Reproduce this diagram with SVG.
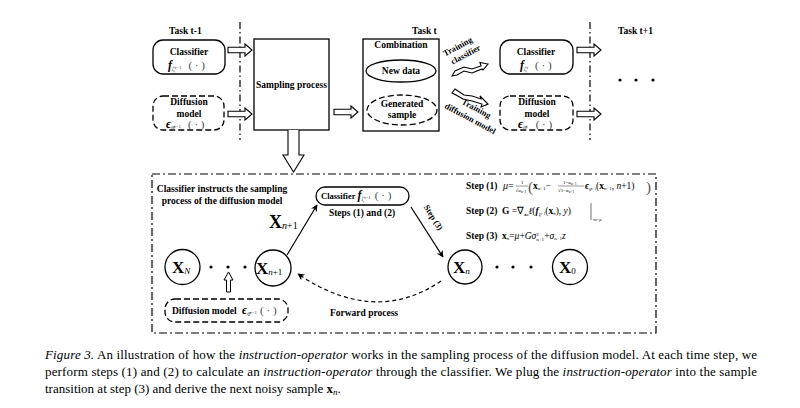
<svg xmlns="http://www.w3.org/2000/svg" width="800" height="408" viewBox="0 0 800 408">
<defs>
<style>
.b{font-family:"Liberation Serif",serif;font-weight:bold;font-size:9.5px;fill:#000}
.s{font-family:"Liberation Serif",serif;font-size:9px;fill:#000}
.i{font-style:italic}
.bi{font-weight:bold;font-style:italic}
.g{fill:#444}
.box{fill:#fff;stroke:#000;stroke-width:1.3}
.dbox{fill:#fff;stroke:#000;stroke-width:1.3;stroke-dasharray:6 3}
.dd{fill:none;stroke:#000;stroke-width:1.2;stroke-dasharray:7 3 1.5 3}
.ln{fill:none;stroke:#000;stroke-width:1.2}
.cap{font-family:"Liberation Serif",serif;font-size:13px;fill:#000}
</style>
<path id="ha" d="M0,-2.8 H17 V-6 L24,0 L17,6 V2.8 H0 Z" fill="#fff" stroke="#000" stroke-width="1.1"/>
<marker id="ar" viewBox="0 0 10 10" refX="9" refY="5" markerWidth="7" markerHeight="7" orient="auto" markerUnits="userSpaceOnUse"><path d="M0,0 L10,5 L0,10 L3,5 Z" fill="#000"/></marker>
</defs>
<rect width="800" height="408" fill="#fff"/>

<!-- task labels -->
<text class="b" x="169" y="34">Task t-1</text>
<text class="b" x="412" y="34">Task t</text>
<text class="b" x="618" y="34">Task t+1</text>

<!-- vertical dash-dot separators -->
<line class="dd" x1="240" y1="22" x2="240" y2="140"/>
<line class="dd" x1="590" y1="22" x2="590" y2="140"/>

<g id="clf-prev">
<rect class="box" x="153" y="40" width="72" height="34" rx="10"/>
<text class="b" x="189" y="55" text-anchor="middle">Classifier</text>
<text class="s" x="168" y="69"><tspan class="bi" font-size="12">f</tspan><tspan font-size="6.5" dy="2" class="g">ζ</tspan><tspan font-size="5" dy="-2" class="g">t−1</tspan><tspan dx="7" dy="0" font-size="11" class="g">( · )</tspan></text>
</g>

<g id="diff-prev">
<rect class="dbox" x="153" y="96" width="71" height="34" rx="10"/>
<text class="b" x="189" y="105" text-anchor="middle">Diffusion</text>
<text class="b" x="189" y="117" text-anchor="middle">model</text>
<text class="s" x="166" y="128"><tspan class="bi" font-size="12">ϵ</tspan><tspan font-size="6.5" dy="2" class="g">θ̂</tspan><tspan font-size="5" dy="-2" class="g">t−1</tspan><tspan dx="7" font-size="11" class="g">( · )</tspan></text>
</g>

<g id="sampling">
<rect class="box" x="254" y="39" width="75" height="91"/>
<text class="b" x="291.5" y="88" text-anchor="middle">Sampling process</text>
</g>

<g id="combination">
<rect class="box" x="363" y="39" width="76" height="92"/>
<text class="b" x="401" y="48" text-anchor="middle">Combination</text>
<ellipse class="box" cx="401" cy="71" rx="35" ry="11"/>
<text class="b" x="401" y="74" text-anchor="middle">New data</text>
<ellipse class="dbox" cx="402" cy="110" rx="35" ry="15"/>
<text class="b" x="402" y="107" text-anchor="middle">Generated</text>
<text class="b" x="402" y="118" text-anchor="middle">sample</text>
</g>

<g id="clf-cur">
<rect class="box" x="500" y="40" width="73" height="34" rx="10"/>
<text class="b" x="536" y="55" text-anchor="middle">Classifier</text>
<text class="s" x="520" y="69"><tspan class="bi" font-size="12">f</tspan><tspan font-size="6.5" dy="2" class="g">ζ</tspan><tspan font-size="5" dy="-2" class="g">t</tspan><tspan dx="7" font-size="11" class="g">( · )</tspan></text>
</g>

<g id="diff-cur">
<rect class="dbox" x="500" y="96" width="73" height="34" rx="10"/>
<text class="b" x="537" y="105" text-anchor="middle">Diffusion</text>
<text class="b" x="537" y="117" text-anchor="middle">model</text>
<text class="s" x="518" y="128"><tspan class="bi" font-size="12">ϵ</tspan><tspan font-size="6.5" dy="2" class="g">θ̂</tspan><tspan font-size="5" dy="-2" class="g">t</tspan><tspan dx="8" font-size="11" class="g">( · )</tspan></text>
</g>

<g id="dots-top">
<circle cx="620" cy="80" r="1.6"/><circle cx="636" cy="80" r="1.6"/><circle cx="653" cy="80" r="1.6"/>
</g>

<!-- bottom panel -->
<rect class="dd" x="152" y="174" width="504" height="159" style="stroke-dasharray:8 3 2 3"/>
<text class="b" x="222" y="192" text-anchor="middle">Classifier instructs the sampling</text>
<text class="b" x="222" y="204" text-anchor="middle">process of the diffusion model</text>

<g id="clf-pill">
<rect class="box" x="316" y="187" width="93" height="18" rx="9"/>
<text class="b" x="321" y="199" style="font-size:8.5px">Classifier <tspan class="bi" font-size="12">f</tspan><tspan font-size="6.5" dy="2" font-weight="normal" font-style="normal" fill="#444">ζ</tspan><tspan font-size="5" dy="-2" font-weight="normal" fill="#444">t−1</tspan><tspan dx="4" font-size="11" font-weight="normal" fill="#444">( · )</tspan></text>
</g>
<text class="b" x="362" y="216" text-anchor="middle">Steps (1) and (2)</text>

<g id="XN">
<circle class="box" cx="182.5" cy="267" r="17.5"/>
<text class="s" x="172" y="273" style="font-size:17px;font-weight:bold">X<tspan font-size="9" font-style="italic" font-weight="normal" dy="1">N</tspan></text>
</g>
<g id="dots-left"><circle cx="211" cy="267" r="1.6"/><circle cx="228" cy="267" r="1.6"/><circle cx="245" cy="267" r="1.6"/></g>
<g id="Xn1">
<circle class="box" cx="273" cy="268" r="18"/>
<text class="s" x="256" y="274" style="font-size:17px;font-weight:bold">X<tspan font-size="9" font-weight="normal" dy="1"><tspan font-style="italic">n</tspan>+1</tspan></text>
</g>
<g id="Xn">
<circle class="box" cx="465" cy="267" r="17"/>
<text class="s" x="453" y="273" style="font-size:17px;font-weight:bold">X<tspan font-size="9" font-style="italic" font-weight="normal" dy="1">n</tspan></text>
</g>
<g id="dots-right"><circle cx="497" cy="267" r="1.6"/><circle cx="513" cy="267" r="1.6"/><circle cx="531" cy="267" r="1.6"/></g>
<g id="X0">
<circle class="box" cx="570" cy="267" r="17.5"/>
<text class="s" x="559" y="273" style="font-size:17px;font-weight:bold">X<tspan font-size="9" font-weight="normal" dy="1">0</tspan></text>
</g>

<g id="diff-bottom">
<rect class="dbox" x="165" y="299" width="123" height="23" rx="10"/>
<text class="b" x="172" y="314">Diffusion model <tspan dx="3" class="bi" font-size="12">ϵ</tspan><tspan font-size="6.5" dy="2" font-weight="normal" fill="#444">θ̂</tspan><tspan font-size="5" dy="-2" font-weight="normal" fill="#444">t−1</tspan><tspan dx="3" font-size="11" font-weight="normal" fill="#444">( · )</tspan></text>
</g>

<text class="b" x="364" y="316" text-anchor="middle">Forward process</text>

<text class="s" x="269" y="228" style="font-size:18px;font-weight:bold">X<tspan font-size="10" font-weight="normal" dy="1"><tspan font-style="italic">n</tspan>+1</tspan></text>

<!-- equations -->
<g id="equations">
<text class="b" x="466" y="189">Step (1)</text>
<text class="s" x="503" y="189" style="font-size:10px"><tspan class="i">μ</tspan>=</text>
<text class="s" x="521" y="184" style="font-size:5px">1</text>
<line x1="516" y1="186" x2="528" y2="186" stroke="#333" stroke-width="0.5"/>
<text class="s" x="515.5" y="191.5" style="font-size:5px">√<tspan class="i">α</tspan><tspan font-size="3.5" dy="1">n+1</tspan></text>
<text class="s" x="528" y="191.5" style="font-size:15px;fill:#555">(</text>
<text class="s" x="533" y="189" style="font-size:9.5px"><tspan font-weight="bold">x</tspan><tspan font-size="5" dy="1">n+1</tspan><tspan dy="-1">−</tspan></text>
<text class="s" x="563" y="184" style="font-size:5px">1−<tspan class="i">α</tspan><tspan font-size="3.5" dy="1">n+1</tspan></text>
<line x1="558" y1="186" x2="584" y2="186" stroke="#333" stroke-width="0.5"/>
<text class="s" x="558" y="191.5" style="font-size:5px">√1−<tspan class="i">ᾱ</tspan><tspan font-size="3.5" dy="1">n+1</tspan></text>
<text class="s" x="585" y="189" style="font-size:9.5px"><tspan class="bi">ϵ</tspan><tspan font-size="4.5" dy="1.5">θ̂</tspan><tspan font-size="3.5" dy="-1">t−1</tspan><tspan dy="-0.5">(</tspan><tspan font-weight="bold">x</tspan><tspan font-size="5" dy="1">n+1</tspan><tspan dy="-1">, <tspan class="i">n</tspan>+1)</tspan></text>
<text class="s" x="646" y="191.5" style="font-size:15px;fill:#555">)</text>

<text class="b" x="466" y="214">Step (2)</text>
<text class="s" x="502" y="214" style="font-size:9.5px"><tspan font-weight="bold">G</tspan> =∇<tspan font-size="5" font-weight="bold" dy="1.5">x</tspan><tspan font-size="3.5" dy="0.5">n</tspan><tspan dy="-2" class="i">ℓ</tspan>(<tspan class="bi">f</tspan><tspan font-size="4.5" dy="1.5">ζ</tspan><tspan font-size="3.5" dy="-1">t−1</tspan><tspan dy="-0.5">(</tspan><tspan font-weight="bold">x</tspan><tspan font-size="5" dy="1" class="i">n</tspan><tspan dy="-1">), <tspan class="i">y</tspan>)</tspan></text>
<line x1="591" y1="203" x2="591" y2="220" stroke="#333" stroke-width="0.7"/>
<text class="s" x="593" y="221" style="font-size:4.5px">x<tspan font-size="3">n</tspan>=<tspan class="i">μ</tspan></text>

<text class="b" x="466" y="239">Step (3)</text>
<text class="s" x="502" y="239" style="font-size:9.5px"><tspan font-weight="bold">x</tspan><tspan font-size="5" dy="1" class="i">n</tspan><tspan dy="-1">=</tspan><tspan class="i">μ</tspan>+<tspan class="i">Gσ</tspan><tspan font-size="5" dy="-3.5">2</tspan><tspan font-size="5" dx="-2.5" dy="5.5">n+1</tspan><tspan dy="-2">+</tspan><tspan class="i">σ</tspan><tspan font-size="5" dy="1">n+1</tspan><tspan dy="-1" class="i">z</tspan></text>
</g>

<!-- training labels -->
<text class="b" x="459" y="49" style="font-size:8.5px" transform="rotate(-28 459 49)" text-anchor="middle">Training</text>
<text class="b" x="467" y="57" style="font-size:8.5px" transform="rotate(-28 467 57)" text-anchor="middle">classifier</text>
<text class="b" x="475" y="111" style="font-size:8.5px" transform="rotate(28 475 111)" text-anchor="middle">Training</text>
<text class="b" x="469" y="121" style="font-size:8.5px" transform="rotate(28 469 121)" text-anchor="middle">diffusion model</text>

<g id="connectors">
<use href="#ha" x="228" y="50"/>
<use href="#ha" x="228" y="114"/>
<use href="#ha" x="334" y="112"/>
<use href="#ha" x="577" y="50"/>
<use href="#ha" x="577" y="114"/>
<!-- down arrow -->
<path d="M288,130 V155 H283 L293.5,172 L304,155 H299 V130" fill="#fff" stroke="#000" stroke-width="1.1"/>
<!-- small up arrow -->
<path d="M226.5,292 V280 H224 L228.5,272 L233,280 H230.5 V292 Z" fill="#fff" stroke="#000" stroke-width="1"/>
<!-- wavy training arrows -->
<path d="M452,76 L455,71 L464,67 L472,69 L481,66 L480,62.5 L488,64 L483,70 L482,69 L472,73 L464,71 L457,75 Z" fill="#fff" stroke="#000" stroke-width="1.1" stroke-linejoin="miter"/>
<path d="M452,93 L455,89 L464,95 L472,96 L481,99 L480,96 L488,104 L481,107 L482,104 L472,101 L463,99 L456,95 Z" fill="#fff" stroke="#000" stroke-width="1.1"/>
<!-- graph edges -->
<line class="ln" x1="287" y1="255" x2="317" y2="205" marker-end="url(#ar)"/>
<line class="ln" x1="411" y1="207" x2="443" y2="257" marker-end="url(#ar)"/>
<path class="ln" d="M441,281 Q375,326 298,274" style="stroke-dasharray:4 3" marker-end="url(#ar)"/>
</g>
<text class="b" x="431" y="219" style="font-size:8.5px" transform="rotate(58 431 219)" text-anchor="middle">Step (3)</text>

<!-- caption -->
<text class="cap" x="45" y="359" textLength="712" lengthAdjust="spacing"><tspan class="i">Figure 3.</tspan> An illustration of how the <tspan class="i">instruction-operator</tspan> works in the sampling process of the diffusion model. At each time step, we</text>
<text class="cap" x="45" y="376" textLength="712" lengthAdjust="spacing">perform steps (1) and (2) to calculate an <tspan class="i">instruction-operator</tspan> through the classifier. We plug the <tspan class="i">instruction-operator</tspan> into the sample</text>
<text class="cap" x="45" y="393">transition at step (3) and derive the next noisy sample <tspan font-weight="bold">x</tspan><tspan font-size="9" dy="2" class="i">n</tspan><tspan dy="-2">.</tspan></text>
</svg>
